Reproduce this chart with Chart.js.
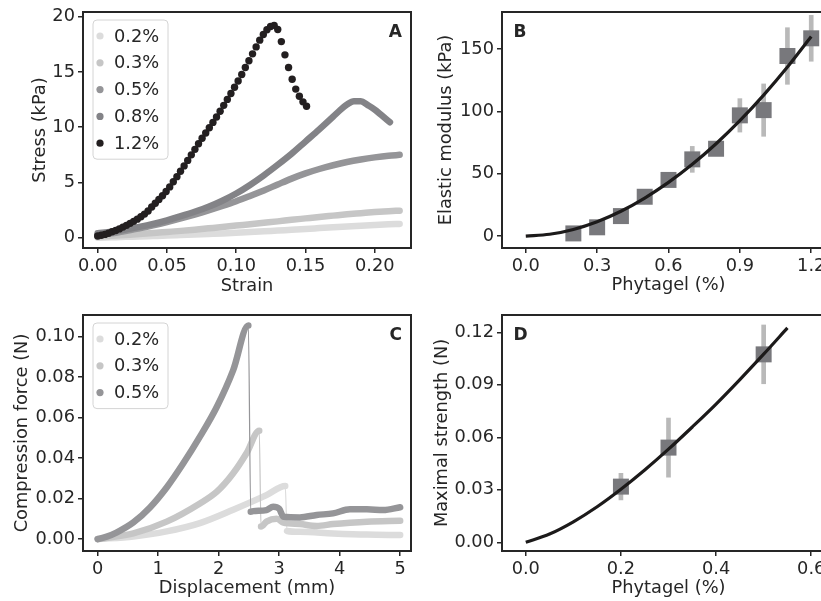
<!DOCTYPE html>
<html lang="en">
<head>
<meta charset="UTF-8">
<title>Phytagel mechanics</title>
<script src="https://cdn.jsdelivr.net/npm/chart.js"></script>
<style>
    html, body {
        margin: 0;
        padding: 0;
        background: #fff;
        overflow: hidden;
    }

    #fig {
        position: relative;
        width: 821px;
        height: 601px;
        overflow: hidden;
    }

    canvas { position: absolute; }
    #panelA { left: 0; top: 0; }
    #panelB { left: 420px; top: 0; }
    #panelC { left: 0; top: 300px; }
    #panelD { left: 420px; top: 300px; }
</style>
</head>
<body>
<div id="fig">
    <canvas id="panelA" width="420" height="300"></canvas>
    <canvas id="panelB" width="430" height="300"></canvas>
    <canvas id="panelC" width="420" height="301"></canvas>
    <canvas id="panelD" width="430" height="301"></canvas>
</div>

<script>
// ---- Panel A: stress vs strain ----
const strainBand = [0, 0.01, 0.02, 0.03, 0.04, 0.05, 0.06, 0.07, 0.08, 0.09, 0.10,
    0.11, 0.12, 0.13, 0.14, 0.15, 0.16, 0.17, 0.18, 0.19, 0.20, 0.21, 0.218];
const stress02 = [0.00, 0.04, 0.08, 0.11, 0.15, 0.19, 0.24, 0.29, 0.34, 0.39, 0.45,
    0.51, 0.58, 0.65, 0.72, 0.79, 0.87, 0.95, 1.02, 1.09, 1.15, 1.21, 1.25];
const stress03 = [0.10, 0.17, 0.25, 0.33, 0.42, 0.52, 0.62, 0.73, 0.85, 0.97, 1.10,
    1.22, 1.35, 1.48, 1.62, 1.75, 1.88, 2.00, 2.12, 2.22, 2.32, 2.40, 2.45];
const stress05 = [0.30, 0.40, 0.60, 0.85, 1.12, 1.42, 1.75, 2.10, 2.47, 2.87, 3.30,
    3.78, 4.28, 4.82, 5.35, 5.82, 6.22, 6.56, 6.85, 7.08, 7.27, 7.42, 7.50];
const strain08 = [0, 0.01, 0.02, 0.03, 0.04, 0.05, 0.06, 0.07, 0.08, 0.09, 0.10, 0.11,
    0.12, 0.13, 0.14, 0.15, 0.16, 0.17, 0.175, 0.18, 0.185, 0.19, 0.195, 0.20, 0.205, 0.211];
const stress08 = [0.40, 0.55, 0.75, 0.98, 1.25, 1.58, 1.95, 2.35, 2.80, 3.35, 4.00, 4.78,
    5.65, 6.60, 7.60, 8.70, 9.80, 10.95, 11.55, 12.05, 12.35, 12.35, 12.00, 11.60, 11.08, 10.45];
const strain12 = [0.0000, 0.0026, 0.0052, 0.0078, 0.0104, 0.0130, 0.0156, 0.0182, 0.0208, 0.0234,
    0.0260, 0.0286, 0.0312, 0.0338, 0.0364, 0.0390, 0.0416, 0.0442, 0.0468, 0.0494,
    0.0520, 0.0546, 0.0572, 0.0598, 0.0624, 0.0650, 0.0676, 0.0702, 0.0728, 0.0754,
    0.0780, 0.0806, 0.0832, 0.0858, 0.0884, 0.0910, 0.0936, 0.0962, 0.0988, 0.1014,
    0.1040, 0.1066, 0.1092, 0.1118, 0.1144, 0.1170, 0.1196, 0.1222, 0.1248, 0.1274,
    0.1300, 0.1326, 0.1352, 0.1378, 0.1404, 0.1430, 0.1456, 0.1482, 0.1508];
const stress12 = [0.15, 0.22, 0.30, 0.40, 0.54, 0.66, 0.80, 0.96, 1.12, 1.30,
    1.48, 1.68, 1.90, 2.14, 2.42, 2.78, 3.12, 3.46, 3.80, 4.18,
    4.60, 5.06, 5.53, 6.01, 6.50, 7.00, 7.50, 8.00, 8.50, 9.00,
    9.48, 9.96, 10.44, 10.93, 11.45, 11.98, 12.52, 13.06, 13.62, 14.18,
    14.78, 15.40, 16.02, 16.64, 17.27, 17.88, 18.40, 18.83, 19.12, 19.22,
    18.85, 17.75, 16.55, 15.40, 14.35, 13.45, 12.80, 12.30, 11.90];

// ---- Panel B: elastic modulus vs phytagel ----
const concB = [0.2, 0.3, 0.4, 0.5, 0.6, 0.7, 0.8, 0.9, 1.0, 1.1, 1.2];
const modulus = [2.1, 7, 16, 31.5, 45, 61.5, 70, 96.8, 101, 144.4, 158.6];
const modulusErr = [2, 3, 3, 4, 4, 10.4, 4, 13.4, 21, 22.7, 18.4];
const fitConcB = [0, 0.1, 0.2, 0.3, 0.4, 0.5, 0.6, 0.7, 0.8, 0.9, 1.0, 1.1, 1.2];
const fitModB = [0, 1.4, 5.3, 11.5, 19.9, 30.5, 43.0, 57.5, 74.0, 92.5, 113, 135.5, 160];

// ---- Panel C: compression force vs displacement ----
const disp02 = [0, 0.59, 1.14, 1.69, 2.24, 2.79, 3.10, 3.13, 3.34, 3.89, 4.45, 5.0];
const force02 = [0, 0.0013, 0.0038, 0.0079, 0.0145, 0.0217, 0.0262, 0.0040, 0.0036, 0.0028, 0.0022, 0.0020];
const disp03 = [0, 0.59, 1.14, 1.69, 1.97, 2.24, 2.46, 2.67, 2.70, 2.79, 2.96, 3.07,
    3.34, 3.62, 3.89, 4.17, 4.45, 5.0];
const force03 = [0, 0.0028, 0.0086, 0.0176, 0.0234, 0.0325, 0.0424, 0.0535, 0.0062, 0.0086,
    0.0100, 0.0081, 0.0074, 0.0065, 0.0074, 0.0081, 0.0086, 0.0090];
const disp05 = [0, 0.15, 0.31, 0.59, 0.86, 1.14, 1.41, 1.69, 1.97, 2.24, 2.49, 2.53, 2.57,
    2.79, 2.90, 3.00, 3.07, 3.34, 3.62, 3.89, 4.17, 4.45, 4.72, 5.0];
const force05 = [0, 0.0012, 0.0032, 0.0082, 0.0155, 0.0255, 0.0372, 0.0506, 0.0654, 0.0835, 0.1055,
    0.0135, 0.0138, 0.0143, 0.0160, 0.0150, 0.0110, 0.0107, 0.0119, 0.0127, 0.0147, 0.0147, 0.0143, 0.0157];

// ---- Panel D: maximal strength vs phytagel ----
const concD = [0.2, 0.3, 0.5];
const strength = [0.0318, 0.0541, 0.1074];
const strengthErr = [0.0076, 0.0169, 0.0168];
const fitConcD = [0, 0.05, 0.1, 0.15, 0.2, 0.25, 0.3, 0.35, 0.4, 0.45, 0.5, 0.55];
const fitStrD = [0, 0.0047, 0.0117, 0.0203, 0.0303, 0.0413, 0.0532, 0.0659, 0.0790, 0.0930, 0.1075, 0.1225];

// tick values
const ticksAx = [0, 0.05, 0.10, 0.15, 0.20];
const ticksAy = [0, 5, 10, 15, 20];
const ticksBx = [0, 0.3, 0.6, 0.9, 1.2];
const ticksBy = [0, 50, 100, 150];
const ticksCx = [0, 1, 2, 3, 4, 5];
const ticksCy = [0, 0.02, 0.04, 0.06, 0.08, 0.10];
const ticksDx = [0, 0.2, 0.4, 0.6];
const ticksDy = [0, 0.03, 0.06, 0.09, 0.12];

const grey02 = '#dcdcdc', grey03 = '#c6c6c6', grey05 = '#959598', grey08 = '#838387', black12 = '#231f20';
const ink = '#262626';
const FONT = '"DejaVu Sans", sans-serif';
const FS = 17.8;

Chart.defaults.font.family = FONT;
Chart.defaults.font.size = FS;
Chart.defaults.color = ink;

const xy = (xs, ys) => xs.map((x, i) => ({x: x, y: ys[i]}));
const errBars = (xs, ys, es) => xs.map((x, i) => ({x: x, y: [ys[i] - es[i], ys[i] + es[i]]}));

function axis(pos, min, max, ticks, dec, size, title, titlePad) {
    return {
        type: 'linear',
        position: pos,
        min: min,
        max: max,
        offset: false,
        afterBuildTicks: s => { s.ticks = ticks.map(v => ({value: v})); },
        afterFit: s => {
            if (pos === 'bottom') s.height = size; else s.width = size;
            s.paddingLeft = s.paddingRight = s.paddingTop = s.paddingBottom = 0;
        },
        ticks: { callback: v => v.toFixed(dec), padding: 3, color: ink, autoSkip: false, maxRotation: 0 },
        grid: { drawOnChartArea: false, offset: false, tickLength: 5, color: ink, lineWidth: 1.5 },
        border: { display: false },
        title: { display: true, text: title, color: ink, padding: pos === 'bottom' ? {bottom: titlePad, top: 0} : {top: titlePad, bottom: 0} }
    };
}

// frame, panel letter and framed legend inside the axes
const panelDecor = {
    id: 'panelDecor',
    afterDatasetsDraw(chart, args, o) {
        const ctx = chart.ctx, a = chart.chartArea;
        ctx.save();
        const items = chart.data.datasets.filter(d => d.label);
        if (items.length) {
            const x0 = a.left + 10, y0 = a.top + 8, rowH = 26.8;
            const h = 32 + (items.length - 1) * rowH;
            ctx.beginPath();
            ctx.roundRect(x0, y0, 75, h, 4);
            ctx.fillStyle = 'rgba(255,255,255,0.85)';
            ctx.fill();
            ctx.strokeStyle = '#d4d4d4';
            ctx.lineWidth = 1;
            ctx.stroke();
            ctx.font = FS + 'px ' + FONT;
            ctx.textBaseline = 'middle';
            ctx.textAlign = 'left';
            items.forEach((d, i) => {
                const cy = y0 + 16 + i * rowH;
                ctx.beginPath();
                ctx.arc(x0 + 7, cy, 3.6, 0, Math.PI * 2);
                ctx.fillStyle = d.legendColor;
                ctx.fill();
                ctx.fillStyle = ink;
                ctx.fillText(d.label, x0 + 21, cy + 1);
            });
        }
        ctx.strokeStyle = ink;
        ctx.lineWidth = 2;
        ctx.strokeRect(a.left, a.top, a.right - a.left, a.bottom - a.top);
        ctx.font = 'bold 17px ' + FONT;
        ctx.fillStyle = ink;
        ctx.textBaseline = 'middle';
        ctx.textAlign = o.align;
        const lx = o.align === 'right' ? a.right - 9 : a.left + 11.5;
        ctx.fillText(o.letter, lx, a.top + 21);
        ctx.restore();
    }
};

function baseOptions(pad, letter, align, scales) {
    return {
        responsive: false,
        animation: false,
        devicePixelRatio: 1,
        layout: { padding: pad },
        plugins: {
            legend: { display: false },
            tooltip: { enabled: false },
            panelDecor: { letter: letter, align: align }
        },
        scales: scales
    };
}

function band(label, xs, ys, color, order, width) {
    return {
        type: 'line',
        label: label,
        legendColor: color,
        data: xy(xs, ys),
        borderColor: color,
        borderWidth: width,
        borderCapStyle: 'round',
        borderJoinStyle: 'round',
        cubicInterpolationMode: 'monotone',
        pointRadius: 0,
        order: order
    };
}

// Panel A
new Chart(document.getElementById('panelA'), {
    type: 'scatter',
    data: {
        datasets: [
            band('0.2%', strainBand, stress02, grey02, 5, 6.5),
            band('0.3%', strainBand, stress03, grey03, 4, 6.5),
            band('0.5%', strainBand, stress05, grey05, 3, 6.5),
            band('0.8%', strain08, stress08, grey08, 2, 6.5),
            {
                label: '1.2%',
                legendColor: black12,
                data: xy(strain12, stress12),
                showLine: false,
                pointRadius: 3.7,
                pointBorderWidth: 0,
                pointBackgroundColor: black12,
                order: 1
            }
        ]
    },
    options: baseOptions({left: 0, top: 12, right: 9, bottom: 0}, 'A', 'right', {
        x: axis('bottom', -0.0106, 0.2262, ticksAx, 2, 52, 'Strain', 2.5),
        y: axis('left', -0.93, 20.43, ticksAy, 0, 83, 'Stress (kPa)', 29.3)
    }),
    plugins: [panelDecor]
});

function fitPanel(id, pad, letter, xs, ys, es, fx, fy, scales) {
    new Chart(document.getElementById(id), {
        type: 'scatter',
        data: {
            datasets: [
                {
                    type: 'line',
                    data: xy(fx, fy),
                    borderColor: '#1c1a1a',
                    borderWidth: 3.2,
                    cubicInterpolationMode: 'monotone',
                    pointRadius: 0,
                    order: 0
                },
                {
                    data: xy(xs, ys),
                    pointStyle: 'rect',
                    pointRadius: 11.3,
                    pointBorderWidth: 0,
                    pointBackgroundColor: '#78787c',
                    order: 1
                },
                {
                    type: 'bar',
                    data: errBars(xs, ys, es),
                    backgroundColor: '#b9b9b9',
                    barThickness: 4,
                    maxBarThickness: 4,
                    borderWidth: 0,
                    order: 2
                }
            ]
        },
        options: baseOptions(pad, letter, 'left', scales),
        plugins: [panelDecor]
    });
}

// Panel B
fitPanel('panelB', {left: 0, top: 12, right: 15, bottom: 0}, 'B', concB, modulus, modulusErr, fitConcB, fitModB, {
    x: axis('bottom', -0.1, 1.3, ticksBx, 1, 52, 'Phytagel (%)', 4),
    y: axis('left', -9.6, 179.7, ticksBy, 0, 82, 'Elastic modulus (kPa)', 16)
});

// Panel C
function forceCurve(label, xs, ys, color, order) {
    const d = band(label, xs, ys, color, order, 6.5);
    d.segment = { borderWidth: s => (s.p0.parsed.y - s.p1.parsed.y > 0.01 ? 1.2 : 6.5) };
    return d;
}

new Chart(document.getElementById('panelC'), {
    type: 'scatter',
    data: {
        datasets: [
            forceCurve('0.2%', disp02, force02, grey02, 3),
            forceCurve('0.3%', disp03, force03, grey03, 2),
            forceCurve('0.5%', disp05, force05, grey05, 1)
        ]
    },
    options: baseOptions({left: 0, top: 15, right: 9, bottom: 0}, 'C', 'right', {
        x: axis('bottom', -0.243, 5.179, ticksCx, 0, 50, 'Displacement (mm)', 2),
        y: axis('left', -0.0059, 0.1107, ticksCy, 2, 83, 'Compression force (N)', 11.5)
    }),
    plugins: [panelDecor]
});

// Panel D
fitPanel('panelD', {left: 0, top: 15, right: 15, bottom: 0}, 'D', concD, strength, strengthErr, fitConcD, fitStrD, {
    x: axis('bottom', -0.05, 0.65, ticksDx, 1, 50, 'Phytagel (%)', 2),
    y: axis('left', -0.005, 0.1299, ticksDy, 2, 82, 'Maximal strength (N)', 11.5)
});
</script>
</body>
</html>
